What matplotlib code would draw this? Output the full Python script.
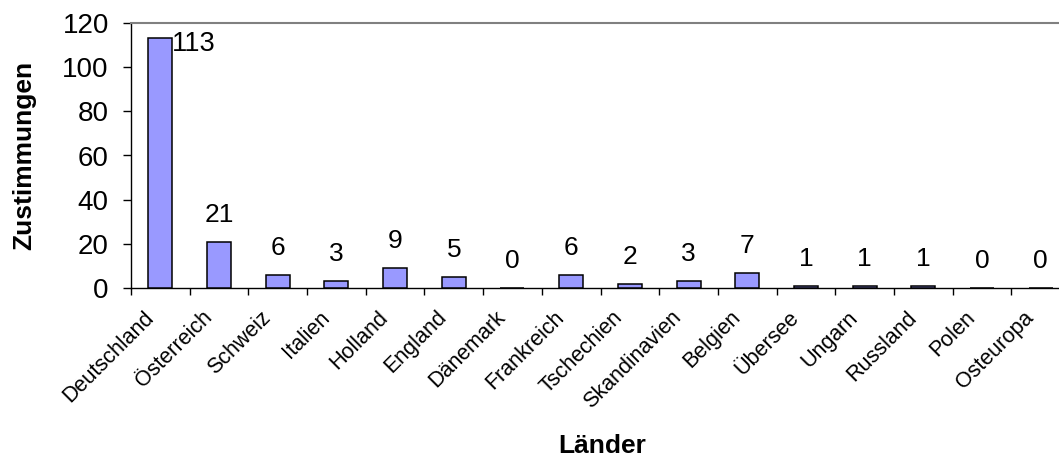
import matplotlib
matplotlib.use("Agg")
import matplotlib.pyplot as plt
import matplotlib.transforms as mtransforms
import numpy as np

plt.rcParams['font.family'] = ['Liberation Sans', 'DejaVu Sans']

laender = ['Deutschland', 'Österreich', 'Schweiz', 'Italien', 'Holland', 'England',
           'Dänemark', 'Frankreich', 'Tschechien', 'Skandinavien', 'Belgien',
           'Übersee', 'Ungarn', 'Russland', 'Polen', 'Osteuropa']
zustimmungen = [113, 21, 6, 3, 9, 5, 0, 6, 2, 3, 7, 1, 1, 1, 0, 0]
y_ticks = [0, 20, 40, 60, 80, 100, 120]

W, H = 1059, 457
fig = plt.figure(figsize=(W / 100, H / 100), dpi=100)
# plot area runs a little past the right edge of the image
ax = fig.add_axes([131 / W, (H - 288) / H, 939 / W, 265 / H])

x = np.arange(len(laender))
bar_w = 0.41
ax.bar(x, zustimmungen, width=bar_w, color='#9999FF', edgecolor='black',
       linewidth=1.1, zorder=3)

ax.set_xlim(-0.5, len(laender) - 0.5)
ax.set_ylim(0, 120)

# value labels above the bars; a label that would leave the plot goes beside the bar
for xi, v in zip(x, zustimmungen):
    if v > 105:
        ax.annotate(str(v), xy=(xi + bar_w / 2, v), xytext=(0, -4),
                    textcoords='offset points', ha='left', va='center',
                    fontsize=19.5)
    else:
        ax.annotate(str(v), xy=(xi, v), xytext=(0, 14.4),
                    textcoords='offset points', ha='center', va='baseline',
                    fontsize=19)

# y axis
ax.set_yticks(y_ticks)
ax.set_yticklabels([str(t) for t in y_ticks])
ax.tick_params(axis='y', direction='out', length=6, width=1, pad=10,
               labelsize=20)

# x axis: ticks between categories, labels at category centres
ax.set_xticks(np.arange(len(laender) + 1) - 0.5)
ax.set_xticklabels([])
ax.tick_params(axis='x', which='major', direction='out', length=5, width=1)
ax.set_xticks(x, minor=True)
ax.set_xticklabels(laender, minor=True, rotation=45, ha='right', va='center',
                   rotation_mode='anchor', fontsize=15.5)
ax.tick_params(axis='x', which='minor', length=0, pad=19)
shift = mtransforms.ScaledTranslation(-10 / 100, 0, fig.dpi_scale_trans)
for lbl in ax.get_xticklabels(minor=True):
    lbl.set_transform(lbl.get_transform() + shift)

for side in ['left', 'bottom']:
    ax.spines[side].set_color('black')
    ax.spines[side].set_linewidth(1)
ax.spines['top'].set_color('#808080')
ax.spines['top'].set_linewidth(1.5)
ax.spines['right'].set_visible(False)

fig.text(24 / W, 1 - 155 / H, 'Zustimmungen', rotation=90, ha='center',
         va='center', fontsize=19, fontweight='bold')
fig.text(602 / W, (H - 453) / H, 'Länder', ha='center', va='baseline',
         fontsize=19, fontweight='bold')

fig.savefig('out.png', dpi=100)
